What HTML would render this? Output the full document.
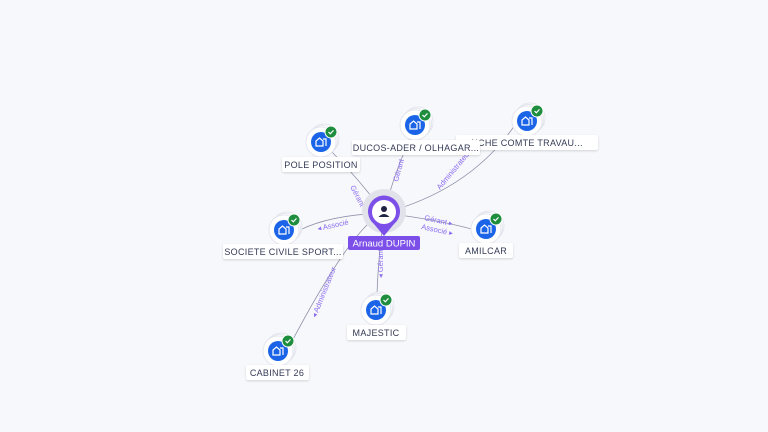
<!DOCTYPE html>
<html><head><meta charset="utf-8"><style>
html,body{margin:0;padding:0;background:#f7f8fc;}
svg{display:block;font-family:"Liberation Sans",sans-serif;}
.lbl{fill:#fff;filter:drop-shadow(0 1px 1px rgba(0,0,0,.15));}
.lt{font-size:9px;fill:#333a55;text-anchor:middle;letter-spacing:.3px;}
.el{font-size:7.5px;fill:#8b6cf0;}
.e{fill:none;stroke:#8d90a8;stroke-width:0.8;}
</style></head><body>
<svg width="768" height="432" viewBox="0 0 768 432">
<defs>
<g id="ic">
<circle cx="3" cy="-3" r="15" fill="#fff" stroke="#e4e6ee"/>
<circle cx="1.5" cy="-1.5" r="15" fill="#fff" stroke="#e4e6ee"/>
<circle r="15" fill="#fff" stroke="#e4e6ee"/>
<circle r="10" fill="#1b64e8"/>
<path d="M-5 4 V-1 L-1.5 -4 L2 -1 V4 Z M2 -3 H5 V4" fill="none" stroke="#fff" stroke-width="1.2"/>
<circle cx="10" cy="-10" r="6" fill="#1e8e3e" stroke="#fff" stroke-width="1"/>
<path d="M7.5 -10 L9.3 -8.2 L12.5 -11.6" fill="none" stroke="#fff" stroke-width="1.2"/>
</g>
</defs>
<path class="e" d="M384 213 Q360 180 330 150"/>
<path class="e" d="M384 213 Q395 170 412 135"/>
<path class="e" d="M384 213 Q470 190 515 125"/>
<path class="e" d="M384 213 Q330 215 300 230"/>
<path class="e" d="M384 213 Q440 220 475 230"/>
<path class="e" d="M384 213 Q378 260 377 295"/>
<path class="e" d="M370 222 Q340 250 290 345"/>
<text class="el" transform="translate(350,187) rotate(62)">Gérant</text>
<text class="el" transform="translate(398,182) rotate(-75)">Gérant</text>
<text class="el" transform="translate(440,190) rotate(-50)">Administrateur</text>
<text class="el" transform="translate(318,231) rotate(-12)">◂ Associé</text>
<text class="el" transform="translate(424,220) rotate(12)">Gérant ▸</text>
<text class="el" transform="translate(421,229) rotate(12)">Associé ▸</text>
<text class="el" transform="translate(383,278) rotate(-90)">◂ Gérant</text>
<text class="el" transform="translate(316,318) rotate(-68)">◂ Administrateur</text>
<circle cx="384" cy="211" r="22" fill="#e2e3ea"/>
<path d="M384 236 L374 224 A16 16 0 1 1 394 224 Z" fill="#7b4fe8"/>
<circle cx="384" cy="212" r="12" fill="#fff"/>
<circle cx="384" cy="209" r="3" fill="#1f2340"/>
<path d="M378.5 217 Q384 211 389.5 217 Z" fill="#1f2340"/>
<rect x="348" y="236" width="72" height="14" rx="2" fill="#7b4fe8"/>
<text x="384" y="246.5" font-size="9.5" fill="#fff" text-anchor="middle">Arnaud DUPIN</text>
<use href="#ic" x="527" y="121"/>
<rect class="lbl" x="456" y="135" width="142" height="15" rx="2"/>
<text class="lt" x="527" y="146">NCHE COMTE TRAVAU...</text>
<use href="#ic" x="321" y="142"/>
<rect class="lbl" x="282" y="157" width="78" height="15" rx="2"/>
<text class="lt" x="321" y="168">POLE POSITION</text>
<use href="#ic" x="415" y="125"/>
<rect class="lbl" x="352" y="140" width="128" height="15" rx="2"/>
<text class="lt" x="416" y="151">DUCOS-ADER / OLHAGAR...</text>
<use href="#ic" x="284" y="230"/>
<rect class="lbl" x="223" y="244" width="120" height="15" rx="2"/>
<text class="lt" x="283" y="255">SOCIETE CIVILE SPORT...</text>
<use href="#ic" x="486" y="229"/>
<rect class="lbl" x="459" y="243" width="54" height="15" rx="2"/>
<text class="lt" x="486" y="254">AMILCAR</text>
<use href="#ic" x="376" y="310"/>
<rect class="lbl" x="347" y="325" width="59" height="15" rx="2"/>
<text class="lt" x="376" y="336">MAJESTIC</text>
<use href="#ic" x="278" y="351"/>
<rect class="lbl" x="246" y="365" width="63" height="15" rx="2"/>
<text class="lt" x="277" y="376">CABINET 26</text>
</svg>
</body></html>
